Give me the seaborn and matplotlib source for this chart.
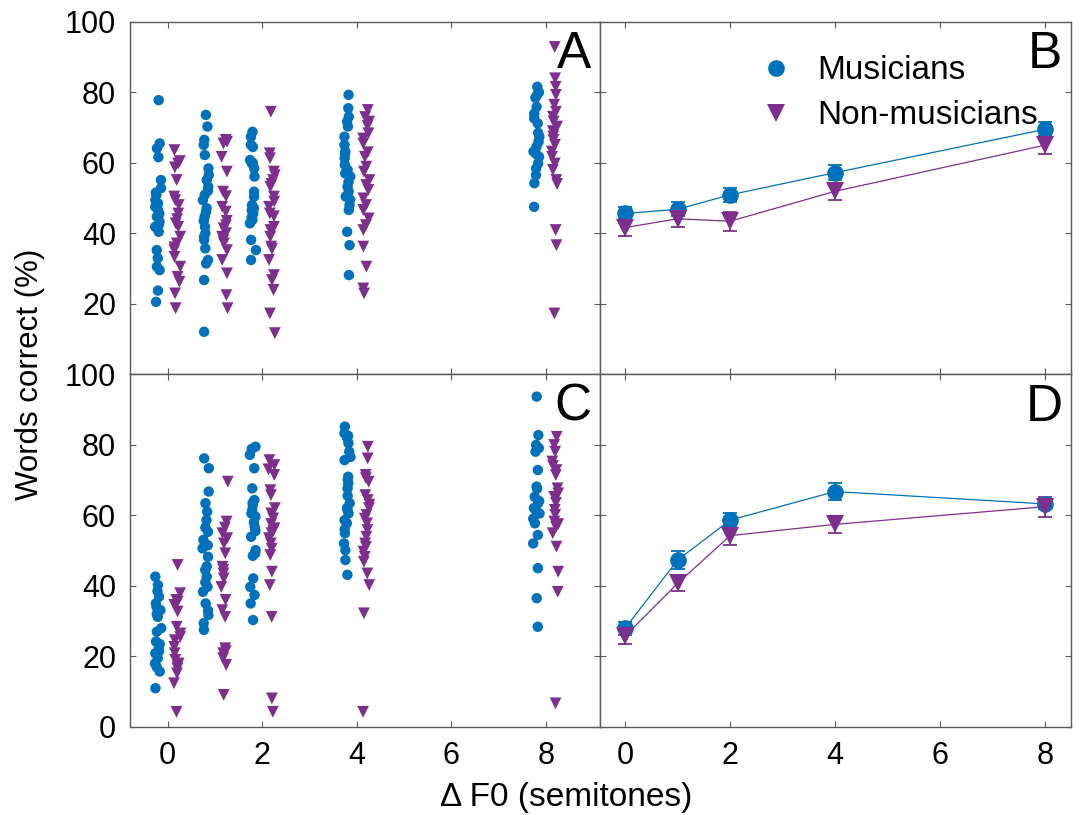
import numpy as np
import pandas as pd
import matplotlib
matplotlib.use("Agg")
import matplotlib.pyplot as plt
from matplotlib.lines import Line2D
import seaborn as sns

np.random.seed(3)  # only for seaborn's strip jitter

f0_levels = [0, 1, 2, 4, 8]
groups = ["Musicians", "Non-musicians"]

# individual listeners, one sub-list per F0 level (0, 1, 2, 4, 8 semitones)
a_mus = [
    [77.8, 65.5, 64.1, 61.6, 55.1, 52.8, 51.5, 50.9, 49.4, 48.5, 47.5, 46.6, 45.5, 44.7, 43.3, 42.5, 41.8, 40.4, 35.2, 32.9, 30.5, 29.5, 23.7, 20.5],
    [73.6, 70.3, 66.5, 65.1, 62.2, 58.4, 56.5, 55.1, 53.2, 52.0, 50.9, 49.4, 47.1, 46.0, 44.7, 43.5, 41.8, 40.0, 39.0, 38.1, 35.7, 32.4, 31.4, 26.7, 12.0],
    [68.8, 67.4, 65.1, 64.5, 60.8, 60.0, 59.8, 58.4, 56.1, 51.8, 50.4, 48.0, 47.1, 46.5, 45.6, 44.5, 43.8, 42.8, 38.1, 35.2, 32.4],
    [79.3, 75.5, 73.1, 71.7, 70.3, 67.4, 65.1, 63.2, 62.5, 61.3, 59.4, 58.0, 57.0, 56.1, 54.5, 53.2, 51.8, 50.4, 49.5, 48.0, 46.6, 40.4, 36.6, 28.1],
    [81.6, 80.0, 79.3, 78.5, 75.9, 74.0, 72.6, 71.2, 68.5, 67.4, 66.0, 64.6, 63.2, 62.5, 61.7, 59.8, 58.4, 56.5, 54.2, 47.5],
]
a_non = [
    [63.6, 60.5, 59.8, 58.7, 55.1, 50.4, 49.4, 48.0, 45.6, 44.0, 42.8, 41.8, 39.0, 37.1, 36.0, 35.2, 33.3, 30.5, 27.6, 26.2, 22.9, 18.7],
    [66.5, 66.0, 65.5, 61.7, 57.5, 51.8, 50.5, 47.5, 46.1, 43.5, 42.3, 41.4, 40.0, 39.0, 38.0, 37.1, 35.2, 32.4, 28.6, 22.4, 18.7],
    [74.5, 62.7, 61.3, 57.5, 56.5, 55.1, 54.0, 53.2, 50.4, 49.0, 47.5, 45.6, 44.8, 41.8, 40.9, 39.0, 36.2, 35.5, 32.4, 28.1, 26.7, 23.9, 17.2, 11.6],
    [75.0, 73.0, 71.7, 70.5, 68.4, 66.9, 65.5, 63.0, 61.7, 58.9, 57.5, 55.1, 53.7, 52.3, 49.9, 48.0, 46.6, 44.2, 42.3, 40.9, 36.2, 30.5, 24.3, 22.9],
    [92.9, 84.0, 81.6, 79.3, 76.5, 74.5, 73.1, 71.7, 70.3, 69.0, 67.5, 66.5, 65.1, 63.2, 61.7, 59.8, 58.0, 55.1, 54.0, 40.9, 36.6, 17.2],
]
c_mus = [
    [42.6, 40.2, 38.5, 36.9, 35.0, 34.0, 33.1, 32.0, 31.2, 28.0, 27.0, 24.2, 23.5, 22.7, 21.5, 20.9, 19.5, 18.0, 17.0, 15.7, 11.0],
    [76.1, 73.3, 66.7, 63.4, 61.0, 58.6, 56.5, 55.3, 53.0, 51.5, 50.6, 48.2, 45.5, 44.5, 42.6, 41.0, 39.7, 38.3, 35.0, 33.0, 31.7, 29.4, 27.5],
    [79.4, 78.8, 77.1, 73.3, 67.6, 64.3, 63.5, 62.9, 61.5, 60.5, 59.6, 58.0, 56.7, 55.5, 53.9, 50.1, 49.2, 48.5, 42.1, 39.7, 37.4, 35.0, 30.3],
    [85.1, 83.2, 82.5, 81.8, 80.4, 78.0, 76.5, 75.6, 70.9, 70.0, 69.0, 67.6, 65.5, 63.4, 62.0, 61.5, 60.5, 58.6, 57.7, 56.0, 54.9, 52.0, 50.1, 47.3, 43.1],
    [93.6, 82.7, 79.9, 79.0, 78.0, 72.8, 68.1, 67.5, 65.2, 64.0, 63.4, 62.0, 61.0, 60.5, 59.0, 57.7, 54.4, 52.0, 45.0, 36.5, 28.4],
]
c_non = [
    [45.9, 37.9, 36.0, 35.5, 34.6, 32.7, 28.4, 26.5, 25.5, 24.6, 22.7, 20.9, 19.0, 18.0, 17.1, 16.5, 15.2, 12.4, 4.3],
    [69.5, 58.2, 56.5, 54.9, 53.5, 52.0, 49.2, 45.4, 44.5, 43.5, 42.1, 39.7, 36.0, 33.1, 31.2, 22.3, 21.5, 20.9, 19.5, 17.6, 9.1],
    [75.6, 74.2, 73.0, 71.4, 67.1, 65.7, 62.0, 60.5, 59.1, 57.5, 56.3, 55.5, 54.9, 53.5, 52.0, 50.5, 48.7, 44.0, 40.2, 31.2, 8.1, 4.3],
    [79.4, 76.1, 71.4, 70.5, 69.5, 65.7, 64.3, 63.0, 62.0, 60.1, 59.0, 57.7, 55.8, 53.9, 52.0, 51.0, 49.7, 48.2, 46.8, 43.5, 40.2, 32.2, 4.3],
    [82.2, 79.9, 78.0, 75.2, 74.0, 72.8, 71.4, 67.6, 66.2, 65.2, 63.5, 61.5, 60.1, 58.2, 57.5, 56.7, 54.9, 51.1, 44.0, 38.3, 6.7],
]

# group means and standard errors
b_mus_mean = [45.6, 46.8, 50.9, 57.2, 69.5]
b_mus_err = [1.8, 2.0, 1.9, 2.2, 2.0]
b_non_mean = [41.6, 44.1, 43.4, 51.9, 65.0]
b_non_err = [2.3, 2.3, 2.7, 2.4, 2.6]
d_mus_mean = [28.0, 47.3, 58.6, 66.7, 63.2]
d_mus_err = [1.8, 2.6, 1.9, 2.5, 1.5]
d_non_mean = [25.8, 40.7, 54.2, 57.4, 62.4]
d_non_err = [2.3, 2.1, 2.6, 2.4, 2.8]

blue = "#0072BD"
purple = "#7E2F8E"
palette = {"Musicians": blue, "Non-musicians": purple}
markers = {"Musicians": "o", "Non-musicians": "v"}
spine_col = "#5a5a5a"

sns.set_theme(style="white")
plt.rcParams["font.family"] = ["Liberation Sans", "DejaVu Sans"]
plt.rcParams["text.color"] = "black"


def long_form(values, group):
    rows = []
    for f0, vals in zip(f0_levels, values):
        for v in vals:
            rows.append({"f0": f0, "score": v, "group": group})
    return pd.DataFrame(rows)


def style_axes(ax, xlim, yticks, labelbottom, labelleft):
    ax.set_xlim(*xlim)
    ax.set_ylim(0, 100)
    ax.set_xticks([0, 2, 4, 6, 8])
    ax.set_yticks(yticks)
    ax.set_xlabel("")
    ax.set_ylabel("")
    for sp in ax.spines.values():
        sp.set_visible(True)
        sp.set_color(spine_col)
        sp.set_linewidth(1.0)
    ax.tick_params(direction="in", length=4, width=0.8, color=spine_col,
                   top=True, right=True, bottom=True, left=True,
                   labelsize=22, labelcolor="black", pad=10,
                   labelbottom=labelbottom, labelleft=labelleft)


def strip_panel(ax, mus, non):
    for vals, g in [(mus, "Musicians"), (non, "Non-musicians")]:
        df = long_form(vals, g)
        sns.stripplot(data=df, x="f0", y="score", hue="group", hue_order=groups,
                      palette=palette, dodge=True, jitter=0.14, native_scale=True,
                      marker=markers[g], size=7.5 if g == "Musicians" else 8.5,
                      linewidth=0, ax=ax, legend=False, zorder=3)


def mean_panel(ax, series):
    for mean, err, g in series:
        ax.errorbar(f0_levels, mean, yerr=err, fmt="none", ecolor=palette[g],
                    elinewidth=1.3, capsize=5, capthick=1.3, zorder=2)
        sns.lineplot(x=f0_levels, y=mean, color=palette[g], marker=markers[g],
                     markersize=12 if g == "Musicians" else 13, markeredgewidth=0,
                     linewidth=0.9, ax=ax, zorder=3)


fig = plt.figure(figsize=(10.8, 8.15), dpi=100)
L, M, R = 0.12037, 0.55556, 0.99167
T, H, B = 0.97301, 0.54110, 0.10798
axA = fig.add_axes([L, H, M - L, T - H])
axB = fig.add_axes([M, H, R - M, T - H])
axC = fig.add_axes([L, B, M - L, H - B])
axD = fig.add_axes([M, B, R - M, H - B])

strip_panel(axA, a_mus, a_non)
strip_panel(axC, c_mus, c_non)
mean_panel(axB, [(b_mus_mean, b_mus_err, "Musicians"), (b_non_mean, b_non_err, "Non-musicians")])
mean_panel(axD, [(d_mus_mean, d_mus_err, "Musicians"), (d_non_mean, d_non_err, "Non-musicians")])

left_lim = (-0.8, 9.15)
right_lim = (-0.48, 8.5)
style_axes(axA, left_lim, [20, 40, 60, 80, 100], False, True)
style_axes(axB, right_lim, [20, 40, 60, 80, 100], False, False)
style_axes(axC, left_lim, [0, 20, 40, 60, 80, 100], True, True)
style_axes(axD, right_lim, [0, 20, 40, 60, 80, 100], True, False)

for ax, letter in zip([axA, axB, axC, axD], "ABCD"):
    ax.text(0.982, 0.868, letter, transform=ax.transAxes, ha="right",
            va="baseline", fontsize=37, color="black")

handles = [Line2D([], [], ls="none", marker="o", ms=12, color=blue, mew=0),
           Line2D([], [], ls="none", marker="v", ms=13, color=purple, mew=0)]
axB.legend(handles, groups, loc="upper left", bbox_to_anchor=(0.338, 0.905),
           frameon=False, fontsize=24, handlelength=1.0, handletextpad=0.75,
           labelspacing=0.42, borderpad=0, borderaxespad=0, labelcolor="black")

fig.text(0.028, 0.541, "Words correct (%)", rotation=90, ha="center",
         va="center", fontsize=22.5, color="black")
fig.text(0.524, 0.022, "\u0394 F0 (semitones)", ha="center", va="center",
         fontsize=24, color="black")

fig.savefig("out.png", dpi=100)
